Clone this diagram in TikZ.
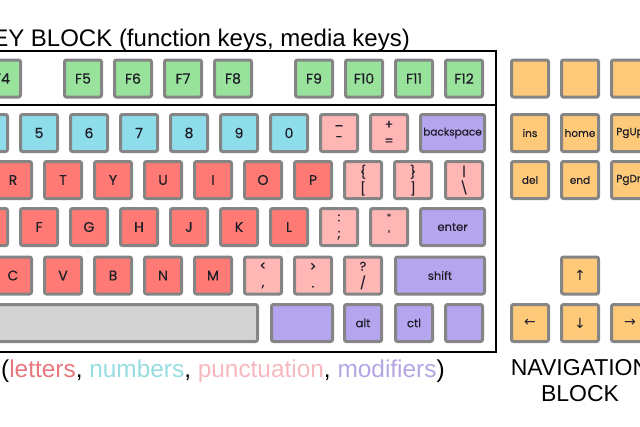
\documentclass[tikz,border=0pt]{standalone}
\usepackage{fontspec}
\setmainfont{Liberation Sans}
\newfontfamily\keyfont{Poppins}[FakeBold=0.4]
\newfontfamily\arrowfont{DejaVu Sans}

\definecolor{keyborder}{HTML}{858585}
\definecolor{keytext}{HTML}{1E1E28}
\definecolor{keygreen}{HTML}{99E29B}
\definecolor{keyblue}{HTML}{8EDDEA}
\definecolor{keyred}{HTML}{FF7A74}
\definecolor{keypink}{HTML}{FFB7B5}
\definecolor{keypurple}{HTML}{B5A4EE}
\definecolor{keyorange}{HTML}{FFC97A}
\definecolor{keygray}{HTML}{D3D3D3}
\definecolor{txtletters}{HTML}{E8787E}
\definecolor{txtnumbers}{HTML}{96DCE0}
\definecolor{txtpunct}{HTML}{F5B9BE}
\definecolor{txtmods}{HTML}{B4A5E4}

\begin{document}
\begin{tikzpicture}[x=1pt, y=-1pt,
        key/.style={draw=keyborder, line width=3pt, rounded corners=2pt, minimum width=37pt, minimum height=37pt, inner sep=0pt, text=keytext, font=\keyfont\fontsize{14}{16}\selectfont},
        fkey/.style={key, fill=keygreen},
        nkey/.style={key, fill=keyblue},
        lkey/.style={key, fill=keyred},
        pkey/.style={key, fill=keypink, align=center, font=\keyfont\fontsize{12.5}{16.5}\selectfont},
        mkey/.style={key, fill=keypurple, font=\keyfont\fontsize{11.5}{13}\selectfont},
        vkey/.style={key, fill=keyorange, font=\keyfont\fontsize{10.5}{13}\selectfont},
        akey/.style={vkey, font=\arrowfont\fontsize{14}{15}\selectfont},
        blockline/.style={line width=1.8pt},
        label/.style={inner sep=0pt, font=\fontsize{24}{28}\selectfont}]
        \useasboundingbox (0,0) rectangle (640,426);
        \clip (0,0) rectangle (640,426);
        \draw[blockline] (0,51)--(496,51)--(496,352)--(0,352) (0,105)--(496,105);
        % function row
        \path (2,78.5) node[fkey] (kF4) {F4} +(81,0) node[fkey] (kF5) {F5} +(131,0) node[fkey] (kF6) {F6} +(181,0) node[fkey] (kF7) {F7} +(231,0) node[fkey] (kF8) {F8};
        \path (314,78.5) node[fkey] (kF9) {F9} +(50,0) node[fkey] (kF10) {F10} +(100,0) node[fkey] (kF11) {F11} +(150,0) node[fkey] (kF12) {F12};
        % number row
        \path (-11,133) node[nkey] (k4) {} +(50,0) node[nkey] (k5) {5} +(100,0) node[nkey] (k6) {6} +(150,0) node[nkey] (k7) {7} +(200,0) node[nkey] (k8) {8} +(250,0) node[nkey] (k9) {9} +(300,0) node[nkey] (k0) {0};
        \path (339,133) node[pkey] (kminus) {\_\\-} +(50,0) node[pkey] (kequal) {+\\=} +(113.5,0) node[mkey, minimum width=64pt, font=\keyfont\fontsize{10.5}{13}\selectfont] (kbksp) {backspace};
        % letter rows
        \path (13,180) node[lkey] (kR) {R} +(50,0) node[lkey] (kT) {T} +(100,0) node[lkey] (kY) {Y} +(150,0) node[lkey] (kU) {U} +(200,0) node[lkey] (kI) {I} +(250,0) node[lkey] (kO) {O} +(300,0) node[lkey] (kP) {P};
        \path (363,180) node[pkey] (klbrack) {\{\\{[}} +(50,0) node[pkey] (krbrack) {\}\\{]}} +(101,0) node[pkey] (kbslash) {|\\\textbackslash};
        \path (-11,227) node[lkey] (kD) {} +(50,0) node[lkey] (kF) {F} +(100,0) node[lkey] (kG) {G} +(150,0) node[lkey] (kH) {H} +(200,0) node[lkey] (kJ) {J} +(250,0) node[lkey] (kK) {K} +(300,0) node[lkey] (kL) {L};
        \path (339,227) node[pkey] (ksemi) {:\\;} +(50,0) node[pkey] (kquote) {"\\'} +(113.5,0) node[mkey, minimum width=64pt] (kenter) {enter};
        \path (13,275.5) node[lkey] (kC) {C} +(50,0) node[lkey] (kV) {V} +(100,0) node[lkey] (kB) {B} +(150,0) node[lkey] (kN) {N} +(200,0) node[lkey] (kM) {M};
        \path (263,275.5) node[pkey] (kcomma) {<\\,} +(50,0) node[pkey] (kperiod) {>\\.} +(100,0) node[pkey] (kslash) {?\\/} +(177,0) node[mkey, minimum width=89pt] (kshift) {shift};
        % bottom row
        \path (54.5,323) node[key, fill=keygray, minimum width=406pt] (kspace) {} (302,323) node[mkey, minimum width=61pt] (kwin) {};
        \path (363,323) node[mkey] (kalt) {alt} +(51,0) node[mkey] (kctl) {ctl} +(101,0) node[mkey] (kmenu) {};
        % navigation block
        \path (530,78.5) node[vkey] (kmedia1) {} +(50,0) node[vkey] (kmedia2) {} +(100,0) node[vkey] (kmedia3) {};
        \path (530,133) node[vkey] (kins) {ins} +(50,0) node[vkey] (khome) {home} +(100,0) node[vkey] (kpgup) {PgUp};
        \path (530,180) node[vkey] (kdel) {del} +(50,0) node[vkey] (kend) {end} +(100,0) node[vkey] (kpgdn) {PgDn};
        \path (580,275.5) node[akey] (kup) {↑};
        \path (530,323) node[akey] (kleft) {←} +(50,0) node[akey] (kdown) {↓} +(100,0) node[akey] (kright) {→};
        % block labels
        \node[label, anchor=base east] (keytitle) at (410,46) {KEY BLOCK (function keys, media keys)};
        \node[label, font=\fontsize{24.4}{28}\selectfont, anchor=base west] (alphatitle) at (1,377) {(\textcolor{txtletters}{letters}, \textcolor{txtnumbers}{numbers}, \textcolor{txtpunct}{punctuation}, \textcolor{txtmods}{modifiers})};
        \node[label, font=\fontsize{23}{26}\selectfont, align=center, anchor=base] (navtitle) at (580,401) {NAVIGATION\\BLOCK};
\end{tikzpicture}
\end{document}
